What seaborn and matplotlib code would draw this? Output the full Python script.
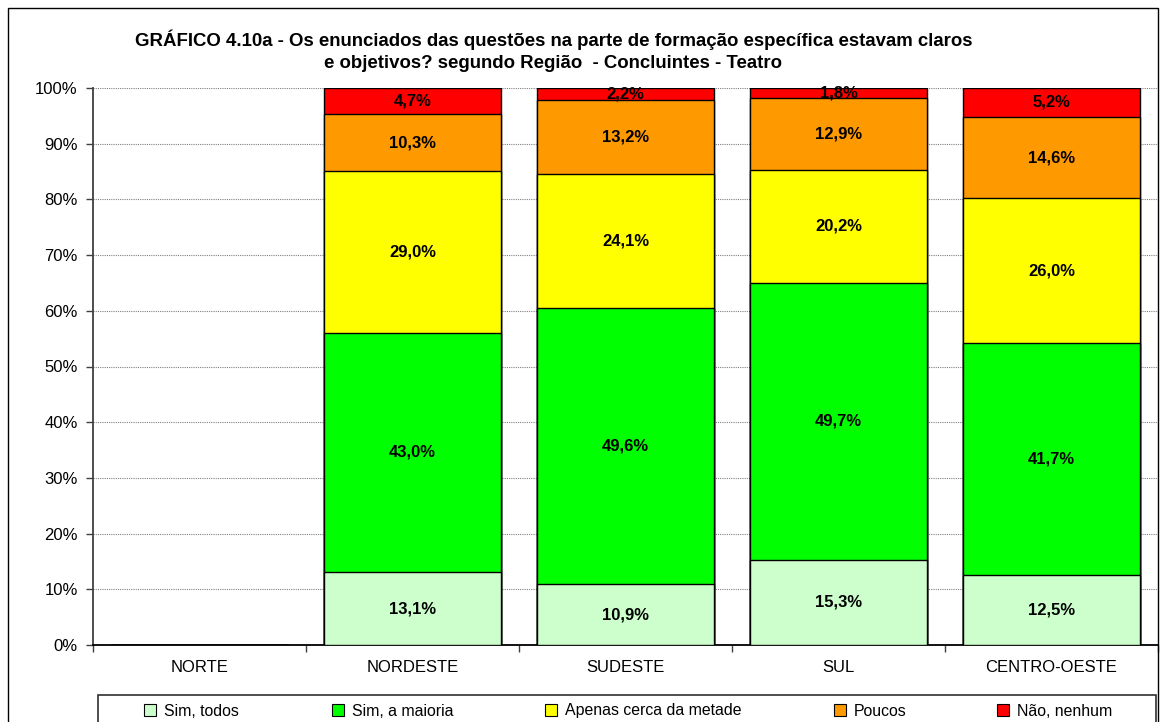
import numpy as np
import pandas as pd
import seaborn as sns
import matplotlib
matplotlib.use("Agg")
import matplotlib.pyplot as plt
from matplotlib.patches import Rectangle, Patch
from matplotlib.ticker import FixedLocator, FuncFormatter

regions = ["NORTE", "NORDESTE", "SUDESTE", "SUL", "CENTRO-OESTE"]
series = ["Sim, todos", "Sim, a maioria", "Apenas cerca da metade", "Poucos", "Não, nenhum"]
sim_todos = [0.0, 13.1, 10.9, 15.3, 12.5]
sim_maioria = [0.0, 43.0, 49.6, 49.7, 41.7]
metade = [0.0, 29.0, 24.1, 20.2, 26.0]
poucos = [0.0, 10.3, 13.2, 12.9, 14.6]
nao_nenhum = [0.0, 4.7, 2.2, 1.8, 5.2]
colors = ["#CCFFCC", "#00FF00", "#FFFF00", "#FF9900", "#FF0000"]
y_ticks = [0, 10, 20, 30, 40, 50, 60, 70, 80, 90, 100]
title = ("GRÁFICO 4.10a - Os enunciados das questões na parte de formação específica estavam claros\n"
         "e objetivos? segundo Região  - Concluintes - Teatro")

sns.set_style("white")
plt.rcParams["font.family"] = ["Liberation Sans", "DejaVu Sans"]
plt.rcParams["text.color"] = "black"
plt.rcParams["xtick.color"] = "black"
plt.rcParams["ytick.color"] = "black"
plt.rcParams["axes.labelcolor"] = "black"

vals = np.array([sim_todos, sim_maioria, metade, poucos, nao_nenhum])
totals = vals.sum(axis=0)
norm = np.where(totals > 0, 100.0 / np.where(totals > 0, totals, 1), 0)
cum = np.cumsum(vals, axis=0) * norm

df = pd.DataFrame({"Região": regions})
for i in range(5):
    df[f"cum{i}"] = cum[i]

fig = plt.figure(figsize=(11.6, 7.22), dpi=100)
ax = fig.add_axes([93 / 1160, 1 - 645 / 722, (1158 - 93) / 1160, (645 - 88) / 722])

for i in range(4, -1, -1):
    sns.barplot(data=df, x="Região", y=f"cum{i}", order=regions, color=colors[i],
                width=0.83, edgecolor="black", linewidth=1.0, saturation=1, ax=ax, zorder=3)

for j, r in enumerate(regions):
    if totals[j] == 0:
        continue
    for i in range(5):
        bottom = cum[i - 1][j] if i > 0 else 0
        mid = (bottom + cum[i][j]) / 2
        ax.text(j, mid, f"{vals[i][j]:.1f}%".replace(".", ","), ha="center", va="center",
                fontsize=12, fontweight="bold", color="black", zorder=5)

ax.set_xlim(-0.5, 4.5)
ax.set_ylim(0, 100)
ax.yaxis.set_major_locator(FixedLocator(y_ticks))
ax.yaxis.set_major_formatter(FuncFormatter(lambda v, p: f"{int(v)}%"))
ax.set_xlabel("")
ax.set_ylabel("")
ax.grid(axis="y", color="#808080", linestyle=(0, (1, 1)), linewidth=0.8, zorder=0)
ax.set_axisbelow(True)
for s in ["top", "right"]:
    ax.spines[s].set_visible(False)
ax.spines["left"].set_color("#404040")
ax.spines["left"].set_linewidth(1.3)
ax.spines["bottom"].set_color("black")
ax.spines["bottom"].set_linewidth(1.3)
ax.tick_params(axis="y", left=True, length=5, width=1, color="#404040", labelsize=12, pad=6)
ax.tick_params(axis="x", which="major", length=0, labelsize=12, pad=11)
ax.set_xticks(np.arange(-0.5, 5, 1), minor=True)
ax.tick_params(axis="x", which="minor", bottom=True, length=5, width=1, color="#404040")

fig.text(0.477, 1 - 51 / 722, title, ha="center", va="center", fontsize=13.4,
         fontweight="bold", multialignment="center", linespacing=1.4)

legend_x = [144, 332, 545, 834, 997]
for lx, c, lab in zip(legend_x, colors, series):
    h = Patch(facecolor=c, edgecolor="black", linewidth=0.8)
    lg = fig.legend([h], [lab], loc="center left",
                    bbox_to_anchor=(lx / 1160, 1 - 711 / 722),
                    bbox_transform=fig.transFigure, fontsize=11.4, frameon=False,
                    handlelength=0.75, handleheight=0.75, handletextpad=0.5,
                    borderpad=0.0, borderaxespad=0)

fig.patches.append(Rectangle((98 / 1160, -0.1), (1156 - 98) / 1160, 0.1 + 1 - 695 / 722,
                             transform=fig.transFigure, fill=False, edgecolor="#303030",
                             linewidth=1.2, zorder=0))
fig.patches.append(Rectangle((8 / 1160, -0.1), (1158 - 8) / 1160, 1.1 - 8 / 722,
                             transform=fig.transFigure, fill=False, edgecolor="black",
                             linewidth=1.0, zorder=0))

fig.savefig("out.png", dpi=100)
